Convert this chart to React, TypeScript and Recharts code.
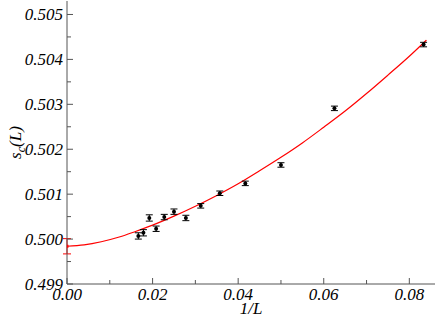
import React from 'react';
import { ComposedChart, XAxis, YAxis, Scatter, Line, ErrorBar } from 'recharts';

// 1/L values of the simulated sizes
const invL = [0.08333, 0.0625, 0.05, 0.04167, 0.03571, 0.03125, 0.02778, 0.025, 0.02273, 0.02083, 0.01923, 0.01786, 0.01667];
// s_c(L) values and their errors
const scValues = [0.50433, 0.50291, 0.50165, 0.50124, 0.50102, 0.50074, 0.50047, 0.50061, 0.50049, 0.50023, 0.50047, 0.50014, 0.50007];
const scErrors = [0.00005, 0.00005, 0.00005, 0.00005, 0.00005, 0.00005, 0.00006, 0.00006, 0.00006, 0.00006, 0.00007, 0.00007, 0.00007];

// extrapolated value at 1/L = 0
const extrapX = [0];
const extrapY = [0.49984];
const extrapErr = [0.00017];

// fitted curve
const fitX = [0, 0.004, 0.008, 0.012, 0.016, 0.02, 0.025, 0.03, 0.035, 0.04, 0.045, 0.05, 0.055, 0.06, 0.065, 0.07, 0.075, 0.08, 0.084];
const fitY = [0.49984, 0.49987, 0.49994, 0.50004, 0.50017, 0.50031, 0.50051, 0.50073, 0.50097, 0.50123, 0.50152, 0.50182, 0.50214, 0.50249, 0.50285, 0.50324, 0.50365, 0.50407, 0.50443];

// ticks
const xTicks = [0, 0.01, 0.02, 0.03, 0.04, 0.05, 0.06, 0.07, 0.08];
const yTicks = [0.499, 0.4995, 0.5, 0.5005, 0.501, 0.5015, 0.502, 0.5025, 0.503, 0.5035, 0.504, 0.5045, 0.505];
const xDomain = [0, 0.086];
const yDomain = [0.499, 0.5053];

const points = invL.map((x, i) => ({ x, y: scValues[i], e: scErrors[i] }));
const extrap = extrapX.map((x, i) => ({ x, y: extrapY[i], e: extrapErr[i] }));
const fit = fitX.map((x, i) => ({ x, y: fitY[i] }));

const AX = '#555';
const SERIF = "'Liberation Serif', 'Times New Roman', Times, serif";

const isMajorX = (v: number) => Math.abs(v * 50 - Math.round(v * 50)) < 1e-6;
const isMajorY = (v: number) => Math.abs(v * 1000 - Math.round(v * 1000)) < 1e-6;

const T = ({ children, ...rest }: any) => (
  <text
    {...rest}
    style={{ fontFamily: SERIF, fontStyle: 'italic', fontSize: 17, fill: '#000' }}
  >
    {children}
  </text>
);

const BottomTick = (p: any) => {
  const v = p.payload.value;
  const major = isMajorX(v);
  return (
    <g>
      <line x1={p.x} x2={p.x} y1={p.y} y2={p.y - (major ? 6 : 4)} stroke={AX} />
      {major && (
        <T x={p.x} y={p.y + 16} textAnchor="middle">
          {v.toFixed(2)}
        </T>
      )}
    </g>
  );
};
const TopTick = (p: any) => {
  const major = isMajorX(p.payload.value);
  return <line x1={p.x} x2={p.x} y1={p.y} y2={p.y + (major ? 6 : 4)} stroke={AX} />;
};
const LeftTick = (p: any) => {
  const v = p.payload.value;
  const major = isMajorY(v);
  return (
    <g>
      <line x1={p.x} x2={p.x + (major ? 6 : 4)} y1={p.y} y2={p.y} stroke={AX} />
      {major && (
        <T x={p.x - 4} y={p.y + 5.5} textAnchor="end">
          {v.toFixed(3)}
        </T>
      )}
    </g>
  );
};
const RightTick = (p: any) => {
  const major = isMajorY(p.payload.value);
  return <line x1={p.x} x2={p.x - (major ? 6 : 4)} y1={p.y} y2={p.y} stroke={AX} />;
};

const XTitle = (p: any) => {
  const vb = p.viewBox || { x: 67, y: 284, width: 368, height: 39 };
  return (
    <T x={vb.x + vb.width / 2} y={vb.y + 29.5} textAnchor="middle">
      1/L
    </T>
  );
};
const YTitle = (p: any) => {
  const vb = p.viewBox || { x: 0, y: 1, width: 67, height: 283 };
  const cx = vb.x + 21;
  const cy = vb.y + vb.height / 2;
  return (
    <T x={cx} y={cy} transform={`rotate(-90, ${cx}, ${cy})`} textAnchor="middle">
      s<tspan dy={4} fontSize={12}>c</tspan>
      <tspan dy={-4}>(L)</tspan>
    </T>
  );
};

const Dot = (p: any) => <circle cx={p.cx} cy={p.cy} r={2} fill="#000" />;
const RedSquare = (p: any) => <rect x={p.cx - 1.5} y={p.cy - 1.5} width={3} height={3} fill="#ff0000" />;

export default function App() {
  return (
    <div style={{ position: 'absolute', left: 0, top: 0, background: '#fff' }}>
      <ComposedChart width={436} height={323} margin={{ top: 1, right: 1, left: 0, bottom: 0 }}>
        <XAxis
          dataKey="x"
          type="number"
          domain={xDomain}
          allowDataOverflow
          ticks={xTicks}
          interval={0}
          height={39}
          tickSize={0}
          tickMargin={0}
          tickLine={false}
          axisLine={{ stroke: AX }}
          tick={<BottomTick />}
          label={<XTitle />}
        />
        <XAxis
          xAxisId="top"
          orientation="top"
          type="number"
          domain={xDomain}
          allowDataOverflow
          ticks={xTicks}
          interval={0}
          height={0}
          tickSize={0}
          tickMargin={0}
          tickLine={false}
          axisLine={{ stroke: AX }}
          tick={<TopTick />}
        />
        <YAxis
          dataKey="y"
          type="number"
          domain={yDomain}
          allowDataOverflow
          ticks={yTicks}
          interval={0}
          width={67}
          tickSize={0}
          tickMargin={0}
          tickLine={false}
          axisLine={{ stroke: AX }}
          tick={<LeftTick />}
          label={<YTitle />}
        />
        <YAxis
          yAxisId="right"
          orientation="right"
          type="number"
          domain={yDomain}
          allowDataOverflow
          ticks={yTicks}
          interval={0}
          width={0}
          tickSize={0}
          tickMargin={0}
          tickLine={false}
          axisLine={{ stroke: AX }}
          tick={<RightTick />}
        />
        <Line
          data={fit}
          dataKey="y"
          type="monotone"
          stroke="#ff0000"
          strokeWidth={1.2}
          dot={false}
          activeDot={false}
          isAnimationActive={false}
        />
        <Scatter data={points} dataKey="y" shape={<Dot />} isAnimationActive={false}>
          <ErrorBar dataKey="e" direction="y" width={3.5} stroke="#000" strokeWidth={1} isAnimationActive={false} />
        </Scatter>
        <Scatter data={extrap} dataKey="y" shape={<RedSquare />} isAnimationActive={false}>
          <ErrorBar dataKey="e" direction="y" width={4} stroke="#ff0000" strokeWidth={1} isAnimationActive={false} />
        </Scatter>
      </ComposedChart>
    </div>
  );
}
